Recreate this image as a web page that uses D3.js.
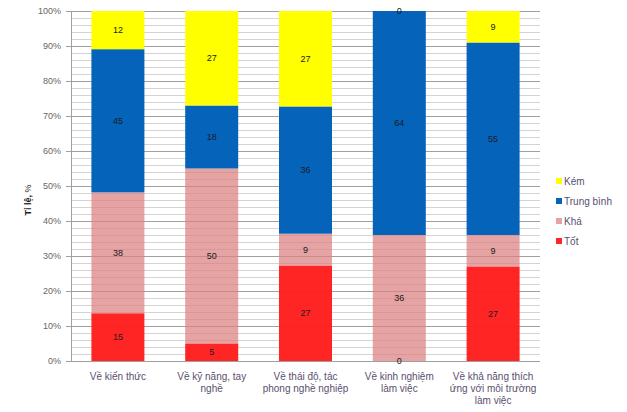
<!DOCTYPE html>
<html>
<head>
<meta charset="utf-8">
<script src="https://cdn.jsdelivr.net/npm/d3@7"></script>
<style>
  html, body { margin: 0; padding: 0; background: #fff; }
  svg { display: block; font-family: "Liberation Sans", Arial, sans-serif; }
</style>
</head>
<body>
<svg id="chart" width="627" height="412"></svg>
<script>
// Survey ratings per category (counts, shown as 100% stacked columns)
const categories = [
  ["Về kiến thức"],
  ["Về kỹ năng, tay", "nghề"],
  ["Về thái độ, tác", "phong nghề nghiệp"],
  ["Về kinh nghiệm", "làm việc"],
  ["Về khả năng thích", "ứng với môi trường", "làm việc"]
];
const tot       = [15, 5, 27, 0, 27];
const kha       = [38, 50, 9, 36, 9];
const trungBinh = [45, 18, 36, 64, 55];
const kem       = [12, 27, 27, 0, 9];

const seriesNames = ["Tốt", "Khá", "Trung bình", "Kém"];
const seriesColors = ["#FF1E1E", "#DB8080", "#0563BA", "#FFFF00"];
const seriesOpacity = [0.97, 0.72, 1, 1];
const yTicks = [0, 0.1, 0.2, 0.3, 0.4, 0.5, 0.6, 0.7, 0.8, 0.9, 1];

const rows = categories.map((c, i) => ({
  key: i, "Tốt": tot[i], "Khá": kha[i], "Trung bình": trungBinh[i], "Kém": kem[i]
}));
const stacked = d3.stack().keys(seriesNames).offset(d3.stackOffsetExpand)(rows);

const svg = d3.select("#chart");
const plot = { left: 71, right: 540, top: 11, bottom: 361 };

const x = d3.scaleBand().domain(d3.range(categories.length))
  .range([plot.left, plot.right]).paddingInner(0.435).paddingOuter(0.2175);
const y = d3.scaleLinear().domain([0, 1]).range([plot.bottom, plot.top]);

// Minor gridlines every 2%
const g = svg.append("g");
g.selectAll("line.minor").data(d3.range(0, 1.0001, 0.02)).join("line")
  .attr("x1", plot.left).attr("x2", plot.right)
  .attr("y1", d => Math.round(y(d)) + 0.5).attr("y2", d => Math.round(y(d)) + 0.5)
  .attr("stroke", "#d4d4d4").attr("stroke-width", 1);

// Major gridlines every 10%, with ticks sticking out left
g.selectAll("line.major").data(yTicks).join("line")
  .attr("x1", plot.left - 5).attr("x2", plot.right)
  .attr("y1", d => Math.round(y(d)) + 0.5).attr("y2", d => Math.round(y(d)) + 0.5)
  .attr("stroke", "#a0a0a0").attr("stroke-width", 1);

// Y axis labels
const yAxis = d3.axisLeft(y).tickValues(yTicks).tickFormat(d3.format(".0%")).tickSize(0).tickPadding(10);
const ya = svg.append("g").attr("transform", `translate(${plot.left},0)`).call(yAxis);
ya.select(".domain").attr("stroke", "#a0a0a0");
ya.selectAll("text").attr("fill", "#666").attr("font-size", 9);

// Bars
const layers = svg.append("g").selectAll("g").data(stacked).join("g")
  .attr("fill", (d, i) => seriesColors[i])
  .attr("fill-opacity", (d, i) => seriesOpacity[i]);
layers.selectAll("rect").data(d => d).join("rect")
  .attr("x", (d, i) => x(i))
  .attr("width", x.bandwidth())
  .attr("y", d => y(d[1]))
  .attr("height", d => y(d[0]) - y(d[1]));

// Value labels
const labels = svg.append("g").attr("font-size", 9).attr("fill", "#1a1a1a").attr("text-anchor", "middle");
stacked.forEach((layer, si) => {
  layer.forEach((d, i) => {
    const v = d.data[seriesNames[si]];
    let cy = (y(d[0]) + y(d[1])) / 2;
    labels.append("text")
      .attr("x", x(i) + x.bandwidth() / 2)
      .attr("y", cy)
      .attr("dy", "0.35em")
      .text(v);
  });
});

// Category labels
const xl = svg.append("g").attr("font-size", 10).attr("fill", "#5b4f6e").attr("text-anchor", "middle");
categories.forEach((lines, i) => {
  const t = xl.append("text").attr("x", x(i) + x.bandwidth() / 2).attr("y", 380);
  lines.forEach((ln, k) => t.append("tspan").attr("x", x(i) + x.bandwidth() / 2).attr("dy", k ? 12 : 0).text(ln));
});

// Y axis title
const yt = svg.append("text").attr("transform", "translate(31,200) rotate(-90)")
  .attr("text-anchor", "middle").attr("font-size", 9).attr("fill", "#222");
yt.append("tspan").attr("font-weight", "bold").text("Tỉ lệ, ");
yt.append("tspan").text("%");

// Legend (top series first)
const legendOrder = [3, 2, 1, 0];
const lg = svg.append("g").attr("font-size", 10);
legendOrder.forEach((si, k) => {
  const ly = 181 + k * 20;
  lg.append("rect").attr("x", 556).attr("y", ly - 3).attr("width", 6).attr("height", 6)
    .attr("fill", seriesColors[si]).attr("fill-opacity", seriesOpacity[si]);
  lg.append("text").attr("x", 564).attr("y", ly).attr("dy", "0.35em")
    .attr("fill", "#5b4f6e").text(seriesNames[si]);
});
</script>
</body>
</html>
